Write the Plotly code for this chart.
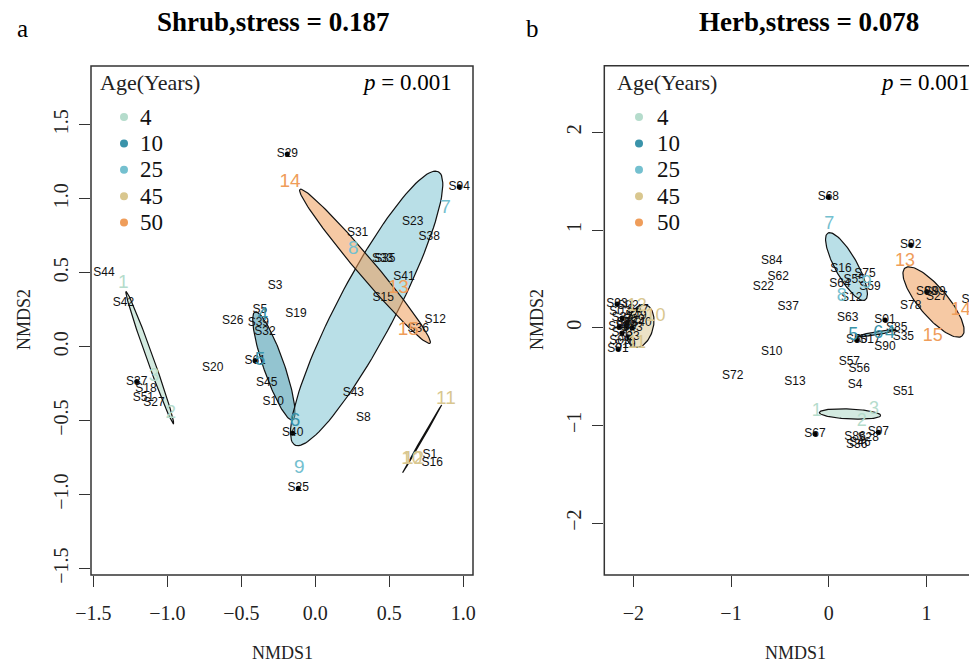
import numpy as np
import plotly.graph_objects as go

# page is 977x665; the html body has an 8 px margin, so the figure is 8 px smaller
OFF = 8
W, H = 977 - OFF, 665 - OFF

# ---------------- shared legend / colours ----------------
ages = ["4", "10", "25", "45", "50"]
age_colors = ["#b5dccc", "#3a93aa", "#74c0cf", "#d9c78f", "#ef9d5a"]
age_fills = ["rgba(181,220,204,0.6)", "rgba(58,147,170,0.55)", "rgba(116,192,207,0.5)",
             "rgba(217,199,143,0.5)", "rgba(239,157,90,0.55)"]

# ---------------- panel a : Shrub ----------------
shrub_sites = ["S44", "S42", "S20", "S26", "S3", "S19", "S5", "S39", "S32", "S61", "S45", "S10",
               "S37", "S18", "S51", "S27", "S29", "S94", "S23", "S38", "S31", "S33", "S35", "S41",
               "S15", "S12", "S36", "S43", "S8", "S40", "S25", "S1", "S16"]
shrub_x = [-1.428, -1.297, -0.693, -0.558, -0.272, -0.130, -0.374, -0.385, -0.340, -0.407, -0.328, -0.284,
           -1.207, -1.144, -1.162, -1.090, -0.189, 0.973, 0.658, 0.770, 0.286, 0.455, 0.470, 0.599,
           0.459, 0.811, 0.696, 0.257, 0.324, -0.153, -0.115, 0.775, 0.790]
shrub_y = [0.496, 0.293, -0.146, 0.176, 0.412, 0.221, 0.248, 0.158, 0.101, -0.095, -0.247, -0.372,
           -0.236, -0.288, -0.349, -0.383, 1.302, 1.081, 0.845, 0.743, 0.766, 0.593, 0.593, 0.469,
           0.327, 0.180, 0.118, -0.315, -0.484, -0.585, -0.957, -0.732, -0.784]
shrub_dotted = ["S29", "S94", "S40", "S25", "S37", "S61"]

shrub_plots = ["1", "2", "3", "4", "5", "6", "7", "8", "9", "10", "11", "12", "13", "14", "15"]
shrub_plot_x = [-1.297, -0.977, -1.090, -0.355, -0.374, -0.137, 0.881, 0.257, -0.108, 0.652, 0.883, 0.664,
                0.561, -0.171, 0.628]
shrub_plot_y = [0.428, -0.450, -0.203, 0.214, -0.090, -0.507, 0.935, 0.658, -0.822, -0.761, -0.355, -0.761,
                0.395, 1.111, 0.108]
shrub_plot_age = [0, 0, 0, 1, 1, 1, 2, 2, 2, 3, 3, 3, 4, 4, 4]

# ellipse parameters per age group: centre, semi-axes, rotation (deg)
shrub_ell_cx = [-1.119, -0.280, 0.347, 0.722, 0.336]
shrub_ell_cy = [-0.073, -0.130, 0.259, -0.623, 0.543]
shrub_ell_a = [0.475, 0.387, 1.043, 0.264, 0.681]
shrub_ell_b = [0.022, 0.070, 0.196, 0.004, 0.061]
shrub_ell_ang = [109.7, 109.1, 62.3, 60.0, -49.8]

# ---------------- panel b : Herb ----------------
herb_sites = ["S68", "S92", "S84", "S62", "S22", "S37", "S16", "S75", "S55", "S64", "S59", "S12", "S63",
              "S78", "S98", "S99", "S27", "S65", "S01", "S85", "S35", "S90", "S50", "S17", "S10", "S72",
              "S13", "S57", "S56", "S4", "S51", "S67", "S97", "S86", "S28", "S46", "S36",
              "S93", "S47", "S02", "S03", "S33", "S53", "S83", "S43", "S73", "S23", "S09", "S19", "S91",
              "S29", "S40", "S49", "S60"]
herb_x = [-0.004, 0.839, -0.583, -0.516, -0.669, -0.414, 0.125, 0.372, 0.260, 0.116, 0.423, 0.235, 0.194,
          0.839, 1.003, 1.088, 1.105, 1.468, 0.576, 0.696, 0.764, 0.576, 0.287, 0.423, -0.583, -0.983,
          -0.345, 0.211, 0.313, 0.269, 0.764, -0.140, 0.508, 0.269, 0.405, 0.320, 0.287,
          -2.167, -1.952, -2.054, -2.136, -2.115, -2.064, -2.146, -2.013, -2.115, -2.044, -2.136, -2.085,
          -2.157, -1.993, -1.921, -1.972, -2.074]
herb_y = [1.335, 0.846, 0.683, 0.519, 0.417, 0.215, 0.605, 0.546, 0.490, 0.447, 0.420, 0.301, 0.102,
          0.222, 0.368, 0.368, 0.317, 0.281, 0.079, -0.006, -0.092, -0.194, -0.126, -0.126, -0.246, -0.494,
          -0.553, -0.354, -0.423, -0.586, -0.655, -1.088, -1.071, -1.116, -1.132, -1.183, -1.201,
          0.243, 0.181, 0.222, 0.161, 0.099, 0.048, 0.007, -0.003, -0.054, -0.095, -0.136, -0.177,
          -0.218, 0.079, 0.048, 0.120, 0.017]
herb_dotted = ["S68", "S92", "S98", "S01", "S50", "S67", "S97", "S93", "S91", "S47",
               "S33", "S53", "S83", "S43", "S73", "S23", "S60"]

herb_plots = ["1", "2", "3", "4", "5", "6", "7", "8", "9", "10", "11", "12", "13", "14", "15"]
herb_plot_x = [-0.123, 0.338, 0.464, 0.627, 0.252, 0.508, 0.006, 0.133, 0.389, -1.773, -1.965, -1.965,
               0.781, 1.351, 1.064]
herb_plot_y = [-0.860, -0.962, -0.842, -0.064, -0.075, -0.064, 1.061, 0.317, 0.454, 0.113, -0.160, 0.215,
               0.676, 0.181, -0.085]
herb_plot_age = [0, 0, 0, 1, 1, 1, 2, 2, 2, 3, 3, 3, 4, 4, 4]

herb_ell_cx = [0.218, 0.484, 0.182, -1.931, 1.073]
herb_ell_cy = [-0.883, -0.057, 0.626, 0.017, 0.263]
herb_ell_a = [0.314, 0.208, 0.392, 0.225, 0.454]
herb_ell_b = [0.051, 0.015, 0.113, 0.135, 0.148]
herb_ell_ang = [-2.8, 9.5, 119.0, 75.0, -50.0]

panels = [
    dict(title="Shrub,stress = 0.187", letter="a", xa="x", ya="y",
         sites=shrub_sites, sx=shrub_x, sy=shrub_y, dotted=shrub_dotted,
         plots=shrub_plots, px=shrub_plot_x, py=shrub_plot_y, page=shrub_plot_age,
         ecx=shrub_ell_cx, ecy=shrub_ell_cy, ea=shrub_ell_a, eb=shrub_ell_b, eang=shrub_ell_ang,
         gsize=19),
    dict(title="Herb,stress = 0.078", letter="b", xa="x2", ya="y2",
         sites=herb_sites, sx=herb_x, sy=herb_y, dotted=herb_dotted,
         plots=herb_plots, px=herb_plot_x, py=herb_plot_y, page=herb_plot_age,
         ecx=herb_ell_cx, ecy=herb_ell_cy, ea=herb_ell_a, eb=herb_ell_b, eang=herb_ell_ang,
         gsize=18),
]


def ellipse(cx, cy, a, b, ang, n=120):
    t = np.linspace(0, 2 * np.pi, n)
    th = np.deg2rad(ang)
    ex = a * np.cos(t)
    ey = b * np.sin(t)
    return cx + ex * np.cos(th) - ey * np.sin(th), cy + ex * np.sin(th) + ey * np.cos(th)


fig = go.Figure()
for p in panels:
    # ellipses
    for k in range(len(p["ecx"])):
        ex, ey = ellipse(p["ecx"][k], p["ecy"][k], p["ea"][k], p["eb"][k], p["eang"][k])
        fig.add_trace(go.Scatter(x=ex, y=ey, mode="lines", fill="toself",
                                 fillcolor=age_fills[k], line=dict(color="#111111", width=1.2),
                                 xaxis=p["xa"], yaxis=p["ya"], hoverinfo="skip", showlegend=False))
    # site points (dots)
    dx = [x for s, x in zip(p["sites"], p["sx"]) if s in p["dotted"]]
    dy = [y for s, y in zip(p["sites"], p["sy"]) if s in p["dotted"]]
    fig.add_trace(go.Scatter(x=dx, y=dy, mode="markers", marker=dict(size=5, color="black"),
                             xaxis=p["xa"], yaxis=p["ya"], showlegend=False))
    # site labels
    fig.add_trace(go.Scatter(x=p["sx"], y=p["sy"], text=p["sites"], mode="text",
                             textfont=dict(family="Liberation Sans", size=12, color="#111111"),
                             textposition="middle center", xaxis=p["xa"], yaxis=p["ya"],
                             showlegend=False))
    # plot labels coloured by age
    fig.add_trace(go.Scatter(x=p["px"], y=p["py"], text=p["plots"], mode="text",
                             textfont=dict(family="Liberation Sans", size=p["gsize"],
                                           color=[age_colors[a] for a in p["page"]]),
                             textposition="middle center", xaxis=p["xa"], yaxis=p["ya"],
                             showlegend=False))

# page-pixel helpers for layout placement
def fx(px):
    return (px - OFF) / W


def fy(py):
    return 1 - (py - OFF) / H


tickfont = dict(family="Liberation Serif", size=20, color="#222222")
common_axis = dict(showgrid=False, zeroline=False, showline=False, ticks="outside", ticklen=11,
                   tickwidth=1.3, tickcolor="#333333", tickfont=tickfont, automargin=False)

fig.update_layout(
    template="none",
    width=W, height=H, margin=dict(l=0, r=0, t=0, b=0, pad=0), autosize=False,
    paper_bgcolor="white", plot_bgcolor="white", showlegend=False,
    xaxis=dict(domain=[fx(91), fx(473)], range=[-1.516, 1.066], anchor="y",
               tickvals=[-1.5, -1.0, -0.5, 0.0, 0.5, 1.0], ticklabelstandoff=9,
               ticktext=["\u22121.5", "\u22121.0", "\u22120.5", "0.0", "0.5", "1.0"], **common_axis),
    yaxis=dict(domain=[fy(575), fy(66)], range=[-1.543, 1.897], anchor="x",
               tickvals=[-1.5, -1.0, -0.5, 0.0, 0.5, 1.0, 1.5], ticklabelstandoff=3,
               ticktext=["\u22121.5", "\u22121.0", "\u22120.5", "0.0", "0.5", "1.0", "1.5"],
               tickangle=-90, **common_axis),
    xaxis2=dict(domain=[fx(604.3), 1.0], range=[-2.297, 1.518], anchor="y2", ticklabelstandoff=9,
                tickvals=[-2, -1, 0, 1], ticktext=["\u22122", "\u22121", "0", "1"], **common_axis),
    yaxis2=dict(domain=[fy(575), fy(65.7)], range=[-2.531, 2.682], anchor="x2", ticklabelstandoff=3,
                tickvals=[-2, -1, 0, 1, 2], ticktext=["\u22122", "\u22121", "0", "1", "2"],
                tickangle=-90, **common_axis),
)

shapes = []
annotations = []
serif = "Liberation Serif"

# frames
shapes.append(dict(type="rect", xref="paper", yref="paper", x0=fx(91), x1=fx(473), y0=fy(575), y1=fy(66),
                   line=dict(color="#333333", width=1.5), layer="above"))
shapes.append(dict(type="rect", xref="paper", yref="paper", x0=fx(604.3), x1=fx(1010), y0=fy(575),
                   y1=fy(65.7), line=dict(color="#333333", width=1.5), layer="above"))

panel_px = [dict(title_x=273, letter_x=22, legend_x=98, dot_x=124, text_x=138, p_right=454,
                 xt_x=282, yt_x=24),
            dict(title_x=809, letter_x=532, legend_x=615, dot_x=639, text_x=655, p_right=972,
                 xt_x=795, yt_x=537)]

for p, q in zip(panels, panel_px):
    annotations.append(dict(text="<b>" + p["title"] + "</b>", x=fx(q["title_x"]), y=fy(22),
                            xref="paper", yref="paper", showarrow=False, xanchor="center", yanchor="middle",
                            font=dict(family=serif, size=27, color="black")))
    annotations.append(dict(text=p["letter"], x=fx(q["letter_x"]), y=fy(28), xref="paper", yref="paper",
                            showarrow=False, xanchor="center", yanchor="middle",
                            font=dict(family=serif, size=25, color="black")))
    annotations.append(dict(text="NMDS1", x=fx(q["xt_x"]), y=fy(653), xref="paper", yref="paper",
                            showarrow=False, xanchor="center", yanchor="middle",
                            font=dict(family=serif, size=18, color="#222222")))
    annotations.append(dict(text="NMDS2", x=fx(q["yt_x"]), y=fy(320), xref="paper", yref="paper",
                            showarrow=False, xanchor="center", yanchor="middle", textangle=-90,
                            font=dict(family=serif, size=18, color="#222222")))
    annotations.append(dict(text="<i>p</i> = 0.001", x=fx(q["p_right"]), y=fy(83), xref="paper",
                            yref="paper", showarrow=False, xanchor="right", yanchor="middle",
                            font=dict(family=serif, size=23, color="black")))
    annotations.append(dict(text="Age(Years)", x=fx(q["legend_x"]), y=fy(83), xref="paper", yref="paper",
                            showarrow=False, xanchor="left", yanchor="middle",
                            font=dict(family=serif, size=22, color="#222222")))
    for i, (age, col) in enumerate(zip(ages, age_colors)):
        yc = 117 + 26.4 * i
        shapes.append(dict(type="circle", xref="paper", yref="paper", xsizemode="pixel",
                           ysizemode="pixel", xanchor=fx(q["dot_x"]), yanchor=fy(yc),
                           x0=-4, x1=4, y0=-4, y1=4, fillcolor=col, line=dict(width=0)))
        annotations.append(dict(text=age, x=fx(q["text_x"]), y=fy(yc), xref="paper", yref="paper",
                                showarrow=False, xanchor="left", yanchor="middle",
                                font=dict(family=serif, size=23, color="#111111")))

fig.update_layout(shapes=shapes, annotations=annotations)
fig.write_html("out.html")
